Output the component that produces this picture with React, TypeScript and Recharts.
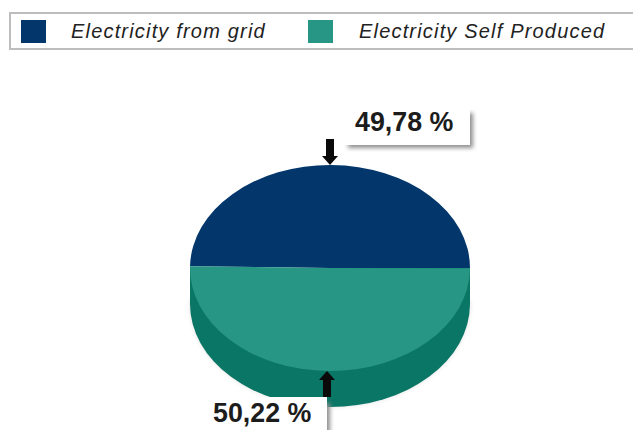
import React from 'react';
import { PieChart, Pie, Legend } from 'recharts';

const names = ['Electricity from grid', 'Electricity Self Produced'];
const values = [49.78, 50.22];
const colors = ['#03376b', '#279684'];
const WALL = '#0a7666';

const data = names.map((name, i) => ({ name, value: values[i], fill: colors[i] }));

const RY = 103;
const DEPTH = 36;

// point on the squashed top face, angle in recharts degrees
const pt = (cx: number, cy: number, r: number, deg: number) => {
  const a = (deg * Math.PI) / 180;
  return [cx + r * Math.cos(a), cy - (r * RY / 140) * Math.sin(a)];
};

const Slice3D = (props: any) => {
  const { cx, cy, outerRadius, startAngle, endAngle, fill } = props;
  const ry = (outerRadius * RY) / 140;
  const [x0, y0] = pt(cx, cy, outerRadius, startAngle);
  const [x1, y1] = pt(cx, cy, outerRadius, endAngle);
  const large = Math.abs(endAngle - startAngle) > 180 ? 1 : 0;
  const lowerHalf = startAngle <= 0.9;
  return (
    <g>
      {lowerHalf && (
        <path
          d={`M${cx - outerRadius},${cy} L${cx - outerRadius},${cy + DEPTH * 0.1} A${outerRadius},${ry} 0 0 0 ${cx + outerRadius},${cy + DEPTH * 0.1} L${cx + outerRadius},${cy} Z`}
          transform={`translate(0,${DEPTH * 0.9})`}
          fill="#c9c9c9"
          opacity={0.55}
          filter="url(#blur)"
        />
      )}
      {lowerHalf && (
        <path
          d={`M${cx - outerRadius},${cy} L${cx - outerRadius},${cy + DEPTH} A${outerRadius},${ry} 0 0 0 ${cx + outerRadius},${cy + DEPTH} L${cx + outerRadius},${cy} Z`}
          fill={WALL}
        />
      )}
      <path
        d={`M${cx},${cy} L${x0},${y0} A${outerRadius},${ry} 0 ${large} 1 ${x1},${y1} Z`}
        fill={fill}
      />
    </g>
  );
};

const Callout = (props: any) => {
  const { index, value, cx, cy, outerRadius } = props;
  const ry = (outerRadius * RY) / 140;
  const text = `${value.toFixed(2).replace('.', ',')} %`;
  const top = index === 0;
  const tipX = top ? cx : cx - 3;
  const tipY = top ? cy - ry : cy + ry;
  const dir = top ? -1 : 1; // shaft goes away from the tip
  const box = top
    ? { x: cx + 10, y: cy - 161, w: 130, h: 38 }
    : { x: cx - 140, y: cy + 129, w: 137, h: 36 };
  const shadowX = top ? box.x + 8 : box.x + 70;
  return (
    <g>
      <rect x={shadowX} y={box.y + 6} width={box.x + box.w + 3 - shadowX} height={box.h - 3} fill="#8f8f8f" filter="url(#blur)" />
      <rect x={box.x} y={box.y} width={box.w} height={box.h} fill="#ffffff" />
      <path
        d={`M${tipX},${tipY} L${tipX - 8},${tipY + dir * 9} L${tipX - 4},${tipY + dir * 9} L${tipX - 4},${tipY + dir * 26} L${tipX + 4},${tipY + dir * 26} L${tipX + 4},${tipY + dir * 9} L${tipX + 8},${tipY + dir * 9} Z`}
        fill="#0a0a0a"
      />
      <text
        x={top ? cx + 25 : cx - 117}
        y={top ? cy - 137 : cy + 154}
        fontFamily="Liberation Sans"
        fontWeight="bold"
        fontSize={26.8}
        fill="#1c1c1c"
      >
        {text}
      </text>
    </g>
  );
};

const LegendBar = ({ payload }: any) => (
  <div
    style={{
      width: 624,
      height: 38,
      boxSizing: 'border-box',
      border: '2px solid #bdbdbd',
      borderRight: 'none',
      background: '#fff',
      position: 'relative',
      fontFamily: 'Liberation Sans',
      fontStyle: 'italic',
      fontSize: 20,
      letterSpacing: 1.18,
      color: '#222',
    }}
  >
    {(payload || []).map((p: any, i: number) => (
      <React.Fragment key={p.value}>
        <div
          style={{ position: 'absolute', left: 10 + i * 287, top: 6, width: 25, height: 23, background: colors[i] }}
        />
        <div style={{ position: 'absolute', left: 60 + i * 288, top: 5, whiteSpace: 'nowrap', lineHeight: '24px' }}>
          {p.value}
        </div>
      </React.Fragment>
    ))}
  </div>
);

export default function App() {
  return (
    <div style={{ position: 'absolute', left: 0, top: 0, width: 633, height: 430, background: '#fff' }}>
      <PieChart width={633} height={430} margin={{ top: 0, right: 0, bottom: 0, left: 0 }}>
        <defs>
          <filter id="blur" x="-20%" y="-20%" width="140%" height="140%">
            <feGaussianBlur stdDeviation="2" />
          </filter>
        </defs>
        <Legend
          content={LegendBar}
          itemSorter={null}
          layout="horizontal"
          verticalAlign="top"
          wrapperStyle={{ left: 9, top: 12, width: 624 }}
        />
        <Pie
          data={data}
          dataKey="value"
          nameKey="name"
          cx={330}
          cy={230}
          outerRadius={140}
          startAngle={179}
          endAngle={-181}
          stroke="none"
          labelLine={false}
          label={Callout}
          shape={Slice3D}
          isAnimationActive={false}
        />
      </PieChart>
    </div>
  );
}
